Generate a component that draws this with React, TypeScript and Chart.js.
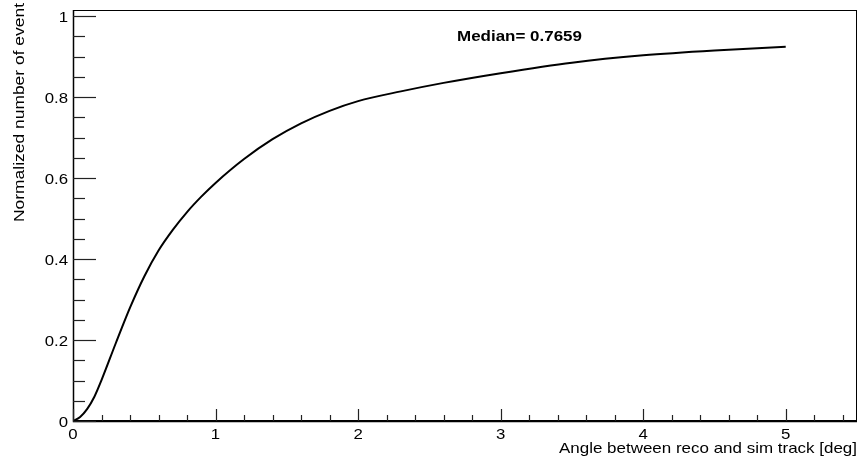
import React, { useEffect, useRef } from "react";
import { Chart, registerables } from "chart.js";

Chart.register(...registerables);

// Cumulative fraction vs angle (deg)
const angles = [0, 0.05, 0.1, 0.15, 0.2, 0.3, 0.4, 0.5, 0.6, 0.7, 0.8, 0.9, 1.0, 1.2, 1.4, 1.6, 1.8, 2.0, 2.3, 2.6, 3.0, 3.5, 4.0, 4.5, 5.0];
const fractions = [0, 0.01, 0.03, 0.06, 0.101, 0.192, 0.28, 0.357, 0.421, 0.472, 0.516, 0.554, 0.588, 0.647, 0.696, 0.735, 0.766, 0.79, 0.814, 0.835, 0.859, 0.885, 0.903, 0.915, 0.924];

const xMajorTicks = [0, 1, 2, 3, 4, 5];
const yMajorTicks = [0, 0.2, 0.4, 0.6, 0.8, 1];
const yTickLabels = ["0", "0.2", "0.4", "0.6", "0.8", "1"];
const xTickLabels = ["0", "1", "2", "3", "4", "5"];

const xTitle = "Angle between reco and sim track [deg]";
const yTitle = "Normalized number of event";
const medianText = "Median= 0.7659";

const FONT = "'Liberation Sans', Arial, Helvetica, sans-serif";

function drawText(ctx: any, text: string, x: number, y: number, align: string, font: string, opts: { sx?: number; width?: number; rotate?: boolean }) {
  ctx.save();
  ctx.font = font;
  ctx.textAlign = align;
  ctx.textBaseline = "alphabetic";
  let sx = opts.sx ?? 1;
  if (opts.width) sx = opts.width / ctx.measureText(text).width;
  ctx.translate(x, y);
  if (opts.rotate) ctx.rotate(-Math.PI / 2);
  ctx.scale(sx, 1);
  ctx.fillText(text, 0, 0);
  ctx.restore();
}

const rootStylePlugin = {
  id: "rootStyle",
  afterDraw(chart: any) {
    const ctx = chart.ctx;
    const { left, right, top, bottom } = chart.chartArea;
    const xs = chart.scales.x;
    const ys = chart.scales.y;
    ctx.save();
    // frame
    ctx.strokeStyle = "#000";
    ctx.lineWidth = 1;
    ctx.strokeRect(left + 0.5, top + 0.5, right - left - 1, bottom - top - 1);
    // axes (slightly heavier)
    ctx.lineWidth = 1.5;
    ctx.beginPath();
    ctx.moveTo(left + 0.5, top);
    ctx.lineTo(left + 0.5, bottom + 0.5);
    ctx.lineTo(right, bottom + 0.5);
    ctx.stroke();

    // x ticks
    ctx.lineWidth = 1.2;
    ctx.strokeStyle = "#222";
    for (let i = 0; i <= 27; i++) {
      const v = i * 0.2;
      const px = Math.round(xs.getPixelForValue(v)) + 0.5;
      const major = i % 5 === 0;
      const len = major ? 12 : 6;
      ctx.beginPath();
      ctx.moveTo(px, bottom);
      ctx.lineTo(px, bottom - len);
      ctx.stroke();
    }
    // y ticks
    for (let i = 0; i <= 20; i++) {
      const v = i * 0.05;
      const py = Math.round(ys.getPixelForValue(v)) + 0.5;
      const major = i % 4 === 0;
      const len = major ? 23 : 12;
      ctx.beginPath();
      ctx.moveTo(left, py);
      ctx.lineTo(left + len, py);
      ctx.stroke();
    }

    ctx.fillStyle = "#000";
    const tickFont = `14px ${FONT}`;
    yMajorTicks.forEach((v, i) => {
      const py = ys.getPixelForValue(v);
      drawText(ctx, yTickLabels[i], left - 5, py + 6, "right", tickFont, { sx: 1.2 });
    });
    xMajorTicks.forEach((v, i) => {
      const px = xs.getPixelForValue(v);
      drawText(ctx, xTickLabels[i], px, bottom + 18, "center", tickFont, { sx: 1.2 });
    });

    // axis titles
    drawText(ctx, xTitle, right, bottom + 32, "right", `15px ${FONT}`, { width: 298 });
    drawText(ctx, yTitle, 24, top - 7, "right", `15px ${FONT}`, { width: 219, rotate: true });

    // median label
    drawText(ctx, medianText, 457, 41, "left", `bold 15.5px ${FONT}`, { width: 125 });
    ctx.restore();
  },
};

export default function App() {
  const ref = useRef<HTMLCanvasElement>(null);
  useEffect(() => {
    if (!ref.current) return;
    const chart = new Chart(ref.current, {
      type: "line",
      data: {
        datasets: [
          {
            data: angles.map((a, i) => ({ x: a, y: fractions[i] })),
            borderColor: "#000",
            borderWidth: 2,
            pointRadius: 0,
            cubicInterpolationMode: "monotone",
            fill: false,
          },
        ],
      },
      options: {
        animation: false,
        responsive: false,
        maintainAspectRatio: false,
        layout: { padding: { left: 73, right: 4, top: 10, bottom: 42 } },
        plugins: { legend: { display: false }, tooltip: { enabled: false } },
        scales: {
          x: { type: "linear", min: 0, max: 5.5, display: false },
          y: { type: "linear", min: 0, max: 1.015, display: false },
        },
      },
      plugins: [rootStylePlugin],
    });
    return () => chart.destroy();
  }, []);
  return (
    <div style={{ position: "absolute", left: 0, top: 0, width: 861, height: 463, background: "#fff" }}>
      <canvas ref={ref} width={861} height={463} style={{ width: 861, height: 463, display: "block" }} />
    </div>
  );
}
